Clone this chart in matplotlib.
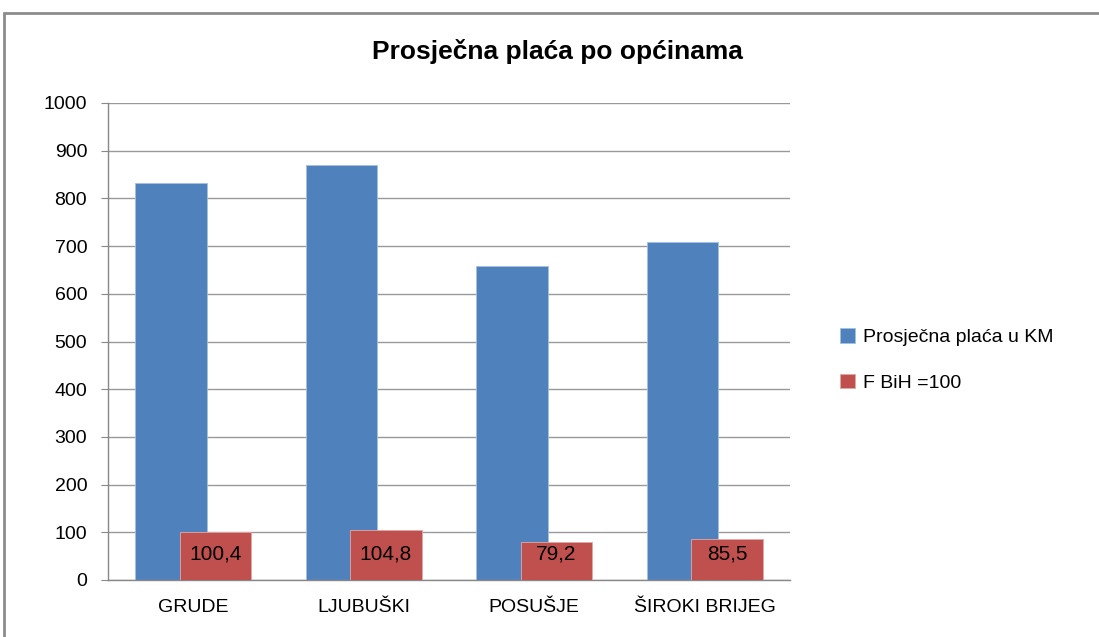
import matplotlib.pyplot as plt
import numpy as np
from matplotlib.patches import Rectangle

plt.rcParams['font.family'] = ['Liberation Sans', 'DejaVu Sans']

# data
opcine = ['GRUDE', 'LJUBUŠKI', 'POSUŠJE', 'ŠIROKI BRIJEG']
placa = [833, 869, 659, 709]
indeks = [100.4, 104.8, 79.2, 85.5]
indeks_txt = ['100,4', '104,8', '79,2', '85,5']

blue = '#4f81bd'
red = '#c0504d'

fig = plt.figure(figsize=(10.99, 6.37), dpi=100)
ax = fig.add_axes([108 / 1099, 1 - 580 / 637, 682 / 1099, 477 / 637])

x = np.arange(len(opcine))
w = 0.42
off = 0.13
ax.bar(x - off, placa, w, color=blue, edgecolor='#a7c0de', linewidth=0.6,
       label='Prosječna plaća u KM', zorder=2)
bars = ax.bar(x + off, indeks, w, color=red, edgecolor='#e0a8a6', linewidth=0.6,
              label='F BiH =100', zorder=3)
for b, t in zip(bars, indeks_txt):
    ax.text(b.get_x() + b.get_width() / 2, 55, t, ha='center', va='center',
            fontsize=15, color='black', zorder=4)

ax.set_xlim(-0.5, len(opcine) - 0.5)
ax.set_ylim(0, 1000)
ax.set_yticks(range(0, 1001, 100))
ax.set_xticks(x)
ax.set_xticklabels(opcine)
ax.tick_params(axis='y', labelsize=14, length=5, color='#888888', pad=10)
ax.tick_params(axis='x', labelsize=14, length=0, pad=14)
ax.yaxis.grid(True, color='#999999', linewidth=1)
ax.set_axisbelow(True)
for s in ['top', 'right']:
    ax.spines[s].set_visible(False)
for s in ['left', 'bottom']:
    ax.spines[s].set_color('#888888')
    ax.spines[s].set_linewidth(1)

fig.text(557 / 1099, 1 - 52 / 637, 'Prosječna plaća po općinama', ha='center',
         va='center', fontsize=19, fontweight='bold')

fig.legend(loc='center left', bbox_to_anchor=(822 / 1099, 1 - 360 / 637),
           frameon=False, fontsize=14, handlelength=0.8, handleheight=0.8,
           handletextpad=0.4, labelspacing=1.4)

fig.patches.append(Rectangle((4 / 1099, -0.1), 1.2, 1.1 - 13 / 637,
                             transform=fig.transFigure, fill=False,
                             edgecolor='#8c8c8c', linewidth=2))

fig.savefig('out.png', dpi=100)
